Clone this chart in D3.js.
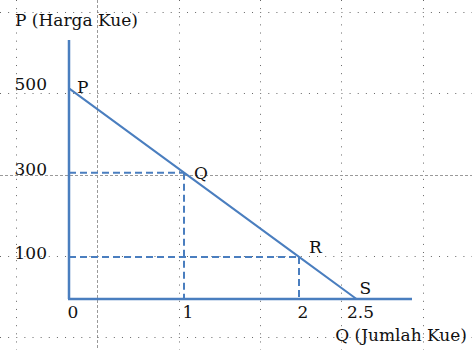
<!DOCTYPE html>
<html>
<head>
<meta charset="utf-8">
<script src="https://cdn.jsdelivr.net/npm/d3@7"></script>
<style>
  body { margin: 0; background: #fff; }
  svg text { font-family: "DejaVu Serif", serif; font-size: 17px; fill: #111; }
</style>
</head>
<body>
<div id="chart"></div>
<script>

// demand schedule: harga (P) vs jumlah (Q)
var pointNames = ["P", "Q", "R", "S"];
var qValues    = [0, 1, 2, 2.5];
var pValues    = [500, 300, 100, 0];

var xTickValues = [0, 1, 2, 2.5];
var xTickLabels = ["0", "1", "2", "2.5"];
var yTickValues = [500, 300, 100];
var yTickLabels = ["500", "300", "100"];

var yTitle = "P (Harga Kue)";
var xTitle = "Q (Jumlah Kue)";

var width = 472, height = 350;
var blue = "#4a7ebf";

// label nudges for each point (px)
var labelOffsets = [[8, 5], [10, 6], [10, -4], [3, -5]];

var svg = d3.select("#chart").append("svg")
    .attr("width", width)
    .attr("height", height);

// dotted page grid in the background
var gridStep = 81.3;
var gridV = d3.range(16, width, gridStep);
var gridH = d3.range(12, height, gridStep);

var grid = svg.append("g").attr("class", "grid");
grid.selectAll("line.v")
    .data(gridV)
    .enter().append("line")
    .attr("class", "v")
    .attr("x1", function(d) { return Math.round(d) + 0.5; })
    .attr("x2", function(d) { return Math.round(d) + 0.5; })
    .attr("y1", 0).attr("y2", height)
    .attr("stroke", function(d, i) { return i == 1 ? "#9a9a9a" : "#666"; })
    .attr("stroke-width", 1)
    .attr("stroke-dasharray", function(d, i) { return i == 1 ? "3,2" : "1,7.13"; });
grid.selectAll("line.h")
    .data(gridH)
    .enter().append("line")
    .attr("class", "h")
    .attr("y1", function(d) { return Math.round(d) + 0.5; })
    .attr("y2", function(d) { return Math.round(d) + 0.5; })
    .attr("x1", 0).attr("x2", width)
    .attr("stroke", function(d, i) { return i == 2 ? "#9a9a9a" : "#666"; })
    .attr("stroke-width", 1)
    .attr("stroke-dasharray", function(d, i) { return i == 2 ? "3,2" : "1,7.13"; });

// scales
var x = d3.scaleLinear().domain([0, 3]).range([69, 414]);
var y = d3.scaleLinear().domain([0, 615]).range([299, 40]);

var data = pointNames.map(function(n, i) {
  return { name: n, q: qValues[i], p: pValues[i], off: labelOffsets[i] };
});

var g = svg.append("g");

// guide lines for the middle points
var inner = data.filter(function(d) { return d.q > 0 && d.p > 0; });
g.selectAll("line.gh")
    .data(inner)
    .enter().append("line")
    .attr("x1", x(0)).attr("x2", function(d) { return x(d.q); })
    .attr("y1", function(d) { return y(d.p); })
    .attr("y2", function(d) { return y(d.p); })
    .attr("stroke", blue).attr("stroke-width", 2)
    .attr("stroke-dasharray", "7,4");
g.selectAll("line.gv")
    .data(inner)
    .enter().append("line")
    .attr("x1", function(d) { return x(d.q); })
    .attr("x2", function(d) { return x(d.q); })
    .attr("y1", function(d) { return y(d.p); })
    .attr("y2", y(0))
    .attr("stroke", blue).attr("stroke-width", 2)
    .attr("stroke-dasharray", "7,4");

// axes
g.append("line")
    .attr("x1", x(0)).attr("x2", x(0))
    .attr("y1", y(0)).attr("y2", y.range()[1])
    .attr("stroke", blue).attr("stroke-width", 2.5);
g.append("line")
    .attr("x1", x(0) - 1).attr("x2", x.range()[1] - 2)
    .attr("y1", y(0)).attr("y2", y(0))
    .attr("stroke", blue).attr("stroke-width", 2.5);

// demand line
var line = d3.line()
    .x(function(d) { return x(d.q); })
    .y(function(d) { return y(d.p); });
g.append("path")
    .datum(data)
    .attr("d", line)
    .attr("fill", "none")
    .attr("stroke", blue)
    .attr("stroke-width", 2);

// point labels
g.selectAll("text.pt")
    .data(data)
    .enter().append("text")
    .attr("class", "pt")
    .attr("x", function(d) { return x(d.q) + d.off[0]; })
    .attr("y", function(d) { return y(d.p) + d.off[1]; })
    .text(function(d) { return d.name; });

// tick labels
g.selectAll("text.xt")
    .data(xTickValues)
    .enter().append("text")
    .attr("class", "xt")
    .attr("x", function(d) { return x(d) + 4; })
    .attr("y", 318)
    .attr("text-anchor", "middle")
    .text(function(d, i) { return xTickLabels[i]; });
g.selectAll("text.yt")
    .data(yTickValues)
    .enter().append("text")
    .attr("class", "yt")
    .attr("x", 47)
    .attr("y", function(d) { return y(d) + 2; })
    .attr("text-anchor", "end")
    .text(function(d, i) { return yTickLabels[i]; });

// axis titles
svg.append("text").attr("x", 15).attr("y", 26).text(yTitle);
svg.append("text").attr("x", 467).attr("y", 341).attr("text-anchor", "end").text(xTitle);

</script>
</body>
</html>
